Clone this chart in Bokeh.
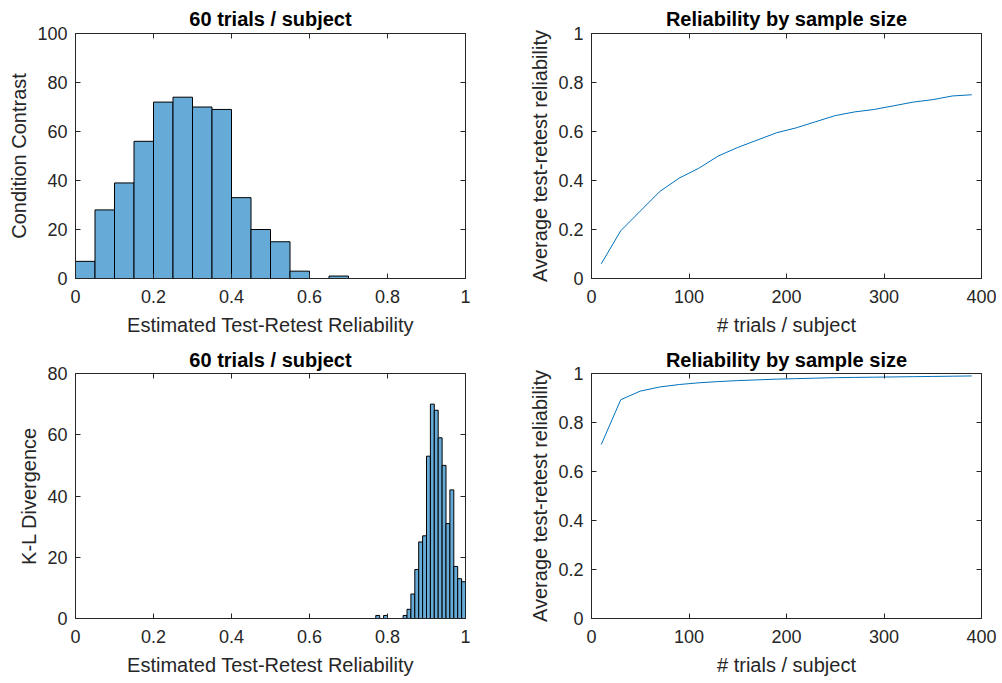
from bokeh.plotting import figure
from bokeh.layouts import gridplot
from bokeh.models import Range1d, LinearAxis, FixedTicker
from bokeh.embed import file_html
from bokeh.resources import INLINE

# ---------------- data ----------------
# top-left histogram (bin width 0.05)
hist1_edges = [0.00, 0.05, 0.10, 0.15, 0.20, 0.25, 0.30, 0.35, 0.40, 0.45, 0.50, 0.55, 0.60, 0.65, 0.70]
hist1_counts = [7, 28, 39, 56, 72, 74, 70, 69, 33, 20, 15, 3, 0, 1]

# bottom-left histogram (bin width 0.01)
hist2_edges = [0.77, 0.78, 0.79, 0.80, 0.81, 0.82, 0.83, 0.84, 0.85, 0.86, 0.87, 0.88,
               0.89, 0.90, 0.91, 0.92, 0.93, 0.94, 0.95, 0.96, 0.97, 0.98, 0.99, 1.00]
hist2_counts = [1, 0, 1, 0, 0, 0, 0, 1, 3, 8, 16, 25, 27, 53, 70, 68, 59, 50, 31, 42, 17, 13, 12]

# reliability by sample size
n_trials = [10, 30, 50, 70, 90, 110, 130, 150, 170, 190, 210, 230, 250, 270, 290, 310, 330, 350, 370, 390]
rel_top = [0.06, 0.195, 0.275, 0.355, 0.41, 0.45, 0.50, 0.535, 0.565, 0.595,
           0.615, 0.64, 0.665, 0.68, 0.69, 0.705, 0.72, 0.73, 0.745, 0.75]
rel_bottom = [0.71, 0.893, 0.928, 0.945, 0.955, 0.962, 0.967, 0.971, 0.974, 0.977,
              0.979, 0.981, 0.983, 0.984, 0.985, 0.986, 0.987, 0.988, 0.989, 0.99]

hist_x_ticks = [0, 0.2, 0.4, 0.6, 0.8, 1]
hist_x_labels = ["0", "0.2", "0.4", "0.6", "0.8", "1"]
hist1_y_ticks = [0, 20, 40, 60, 80, 100]
hist2_y_ticks = [0, 20, 40, 60, 80]
trial_ticks = [0, 100, 200, 300, 400]
rel_ticks = [0, 0.2, 0.4, 0.6, 0.8, 1]
rel_labels = ["0", "0.2", "0.4", "0.6", "0.8", "1"]

title_hist = "60 trials / subject"
title_rel = "Reliability by sample size"
xlabel_hist = "Estimated Test-Retest Reliability"
xlabel_rel = "# trials / subject"
ylabel_hist1 = "Condition Contrast"
ylabel_hist2 = "K-L Divergence"
ylabel_rel = "Average test-retest reliability"

# ---------------- style ----------------
FONT = "Liberation Sans"
AX = "#262626"
BAR = "#66AAD7"
LINE = "#0072BD"
TICK_FS = "18px"
LABEL_FS = "20px"
TITLE_FS = "20px"


def make(width, height, bl, br, bt, bb, xr, yr, title, xt, yt, xl, yl, xlab, ylab, tstand):
    p = figure(width=width, height=height, output_backend="svg", toolbar_location=None,
               x_range=Range1d(*xr), y_range=Range1d(*yr), title=title,
               x_axis_location=None, y_axis_location=None,
               min_border_left=bl, min_border_right=br, min_border_top=bt, min_border_bottom=bb)
    p.outline_line_color = AX
    p.outline_line_width = 1
    p.xgrid.visible = False
    p.ygrid.visible = False
    p.title.text_font = FONT
    p.title.text_font_size = TITLE_FS
    p.title.text_font_style = "bold"
    p.title.text_color = "#000000"
    p.title.align = "center"
    p.title.standoff = tstand

    def main_axis(ticks, labels, lab, standoff, lab_standoff):
        ax = LinearAxis(ticker=FixedTicker(ticks=ticks), axis_label=lab,
                        axis_line_color=AX, major_tick_line_color=AX,
                        major_tick_in=5, major_tick_out=0, minor_tick_line_color=None,
                        major_label_text_font=FONT, major_label_text_font_size=TICK_FS,
                        major_label_text_color=AX, major_label_standoff=standoff,
                        axis_label_text_font=FONT, axis_label_text_font_size=LABEL_FS,
                        axis_label_text_color=AX, axis_label_text_font_style="normal",
                        axis_label_standoff=lab_standoff)
        if labels:
            ax.major_label_overrides = {t: l for t, l in zip(ticks, labels)}
        return ax

    def mirror_axis(ticks):
        return LinearAxis(ticker=FixedTicker(ticks=ticks), axis_line_color=None,
                          major_tick_line_color=AX, major_tick_in=5, major_tick_out=0,
                          minor_tick_line_color=None, major_label_text_color=None,
                          major_label_text_font_size="1px", major_label_standoff=0)

    p.add_layout(main_axis(xt, xl, xlab, 11, 8), "below")
    p.add_layout(main_axis(yt, yl, ylab, 8, 4), "left")
    p.add_layout(mirror_axis(xt), "above")
    p.add_layout(mirror_axis(yt), "right")
    return p


# top-left
p1 = make(525, 342, 75, 60, 33, 64, (0, 1), (0, 100), title_hist,
          hist_x_ticks, hist1_y_ticks, hist_x_labels, None, xlabel_hist, ylabel_hist1, 8)
p1.quad(left=hist1_edges[:-1], right=hist1_edges[1:], bottom=0, top=hist1_counts,
        fill_color=BAR, line_color="#000000", line_width=1)

# top-right
p2 = make(471, 342, 66, 15, 33, 64, (0, 400), (0, 1), title_rel,
          trial_ticks, rel_ticks, None, rel_labels, xlabel_rel, ylabel_rel, 8)
p2.line(n_trials, rel_top, line_color=LINE, line_width=1)

# bottom-left
p3 = make(525, 340, 75, 60, 31, 64, (0, 1), (0, 80), title_hist,
          hist_x_ticks, hist2_y_ticks, hist_x_labels, None, xlabel_hist, ylabel_hist2, 6)
p3.quad(left=hist2_edges[:-1], right=hist2_edges[1:], bottom=0, top=hist2_counts,
        fill_color=BAR, line_color="#000000", line_width=1)

# bottom-right
p4 = make(471, 340, 66, 15, 31, 64, (0, 400), (0, 1), title_rel,
          trial_ticks, rel_ticks, None, rel_labels, xlabel_rel, ylabel_rel, 6)
p4.line(n_trials, rel_bottom, line_color=LINE, line_width=1)

grid = gridplot([[p1, p2], [p3, p4]], toolbar_location=None)

open("out.html", "w").write(file_html(grid, INLINE))
